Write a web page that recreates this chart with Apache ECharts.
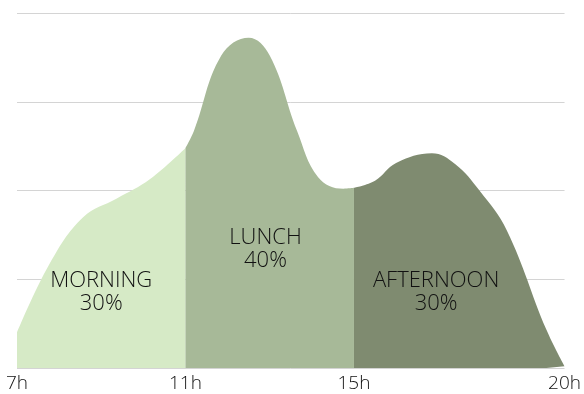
<!DOCTYPE html>
<html>
<head>
<meta charset="utf-8">
<script src="https://cdn.jsdelivr.net/npm/echarts@6/dist/echarts.min.js"></script>
<style>
  html, body { margin: 0; padding: 0; background: #fff; }
  #chart { width: 584px; height: 394px; }
</style>
</head>
<body>
<div id="chart"></div>
<script>
// curve: hour -> relative traffic
var hours  = [7, 7.78, 8.57, 9.37, 10.16, 11, 11.2, 11.85, 12.5, 13.0, 13.65, 14.15, 14.75, 15, 15.5, 16.0, 16.85, 17.4, 17.98, 18.63, 19.57, 20];
var values = [0.40, 1.18, 1.70, 1.91, 2.13, 2.48, 2.67, 3.52, 3.72, 3.52, 2.67, 2.15, 2.02, 2.03, 2.11, 2.31, 2.42, 2.30, 2.0, 1.55, 0.43, 0.02];

var periods   = ['MORNING', 'LUNCH', 'AFTERNOON'];
var shares    = ['30%', '40%', '30%'];
var bounds    = [[7, 11], [11, 15], [15, 20]];
var labelAt   = [[9.0, 0.85], [12.9, 1.34], [16.95, 0.85]];
var colors    = ['#d6eac6', '#a7b998', '#7f8b70'];
var tickHours = [7, 11, 15, 20];

function segment(lo, hi) {
    var out = [];
    hours.forEach(function (h, i) {
        if (h >= lo && h <= hi) out.push([h, values[i]]);
    });
    return out;
}

var chart = echarts.init(document.getElementById('chart'));
chart.setOption({
    animation: false,
    grid: { left: 17, right: 19, top: 13, bottom: 26 },
    xAxis: {
        type: 'value',
        min: 7,
        max: 20,
        interval: 1,
        axisLine: { show: false },
        axisTick: { show: false },
        splitLine: { show: false },
        axisLabel: {
            margin: 6,
            fontSize: 19,
            fontFamily: 'Open Sans',
            fontWeight: 300,
            color: '#111',
            formatter: function (v) {
                return tickHours.indexOf(v) >= 0 ? v + 'h' : '';
            }
        }
    },
    yAxis: {
        type: 'value',
        min: 0,
        max: 4,
        interval: 1,
        axisLabel: { show: false },
        axisLine: { show: false },
        axisTick: { show: false },
        splitLine: { lineStyle: { color: '#d4d4d4', width: 1 } }
    },
    series: periods.map(function (name, i) {
        return {
            name: name,
            type: 'line',
            smooth: 0.4,
            showSymbol: false,
            data: segment(bounds[i][0], bounds[i][1]),
            lineStyle: { width: 0 },
            areaStyle: { color: colors[i], opacity: 1 },
            markPoint: {
                symbolSize: 0,
                data: [{ coord: labelAt[i] }],
                label: {
                    show: true,
                    position: 'inside',
                    formatter: name + '\n' + shares[i],
                    fontFamily: 'Open Sans',
                    fontWeight: 300,
                    fontSize: 22,
                    lineHeight: 23,
                    color: '#111'
                }
            }
        };
    })
});
</script>
</body>
</html>
